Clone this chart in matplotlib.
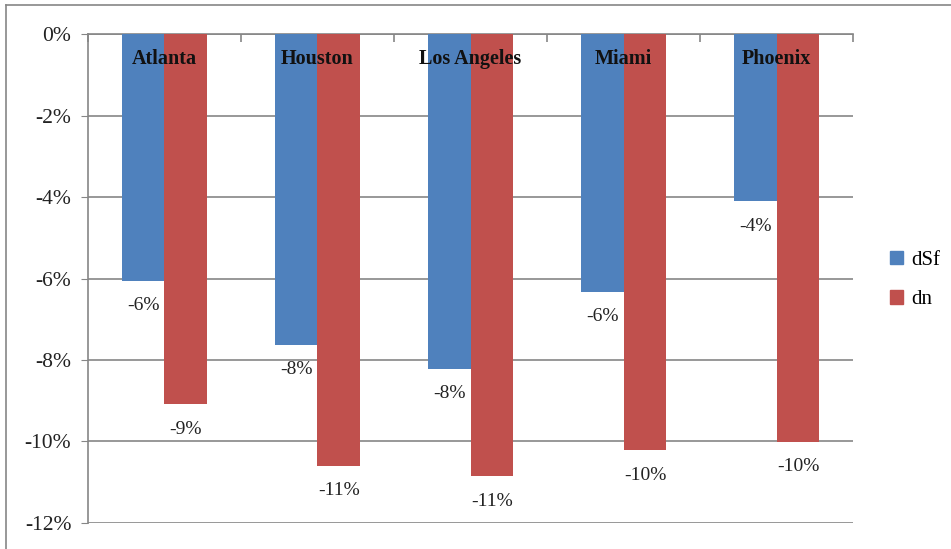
import matplotlib.pyplot as plt
import numpy as np
from matplotlib.patches import Patch
from matplotlib.ticker import FuncFormatter

cities = ["Atlanta", "Houston", "Los Angeles", "Miami", "Phoenix"]
dsf = [-6.06, -7.63, -8.22, -6.33, -4.10]
dn = [-9.08, -10.60, -10.85, -10.21, -10.01]
dsf_labels = ["-6%", "-8%", "-8%", "-6%", "-4%"]
dn_labels = ["-9%", "-11%", "-11%", "-10%", "-10%"]

BLUE = "#4F81BD"
RED = "#C0504D"
GREY = "#868686"

plt.rcParams["font.family"] = ["Liberation Serif", "DejaVu Serif"]

fig = plt.figure(figsize=(9.51, 5.49), dpi=100)
ax = fig.add_axes([0.0925, 0.0474, 0.8045, 0.8906])

x = np.arange(len(cities))
w = 0.28
ax.bar(x - w / 2, dsf, w, color=BLUE, label="dSf", zorder=3)
ax.bar(x + w / 2, dn, w, color=RED, label="dn", zorder=3)

for xi, v, t in zip(x - w / 2, dsf, dsf_labels):
    ax.annotate(t, (xi, v), xytext=(0, -18), textcoords="offset points",
                ha="center", va="center", fontsize=14, color="#222222", zorder=4)
for xi, v, t in zip(x + w / 2, dn, dn_labels):
    ax.annotate(t, (xi, v), xytext=(0, -18), textcoords="offset points",
                ha="center", va="center", fontsize=14, color="#222222", zorder=4)

for xi, c in zip(x, cities):
    ax.text(xi, -0.62, c, ha="center", va="center", fontsize=14.5,
            fontweight="bold", color="#111111", zorder=4)

ax.set_xlim(-0.5, len(cities) - 0.5)
ax.set_ylim(-12, 0)
ax.set_yticks(np.arange(-12, 1, 2))
ax.yaxis.set_major_formatter(FuncFormatter(lambda v, p: f"{int(round(v))}%"))
ax.tick_params(axis="y", labelsize=15.5, length=5, color=GREY, pad=7,
               labelcolor="#222222")
ax.yaxis.grid(True, color=GREY, linewidth=1.2, zorder=0)

ax.set_xticks(np.arange(-0.5, len(cities), 1))
ax.set_xticklabels([])
ax.xaxis.set_ticks_position("top")
ax.tick_params(axis="x", direction="in", length=6, color=GREY, width=1.2)

for side in ["right", "bottom"]:
    ax.spines[side].set_visible(False)
for side in ["left", "top"]:
    ax.spines[side].set_color(GREY)
    ax.spines[side].set_linewidth(1.2)

handles = [Patch(color=BLUE, label="dSf"), Patch(color=RED, label="dn")]
fig.legend(handles=handles, loc="center left", bbox_to_anchor=(0.925, 0.49),
           frameon=False, fontsize=15, handlelength=0.6, handleheight=0.6,
           handletextpad=0.4, labelspacing=1.0, borderpad=0.0)

# outer chart frame (only top/left edges visible in the crop)
fig.add_artist(plt.Line2D([0.0063, 1.0], [0.99, 0.99], color=GREY, lw=1.2))
fig.add_artist(plt.Line2D([0.0063, 0.0063], [0.0, 0.99], color=GREY, lw=1.2))

fig.savefig("out.png", dpi=100)
